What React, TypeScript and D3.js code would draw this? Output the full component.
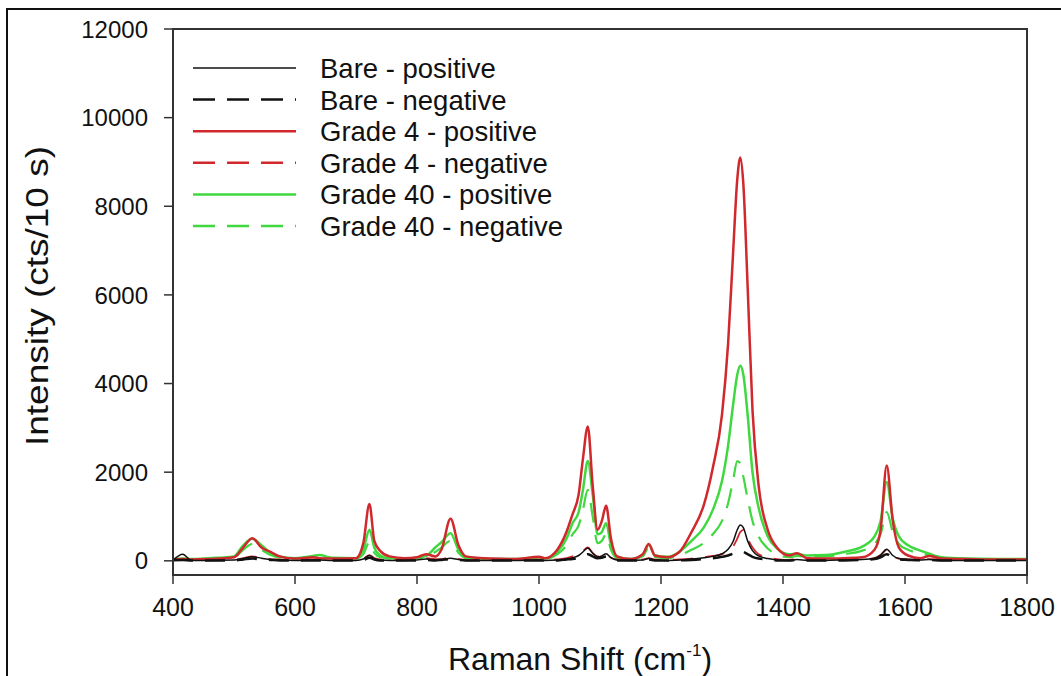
import React from 'react';
import * as d3 from 'd3';

// Raman shift sample points (cm-1)
const shift = [
  400, 416, 430, 460, 500, 515, 530, 545, 560, 575,
  600, 630, 640, 660, 700, 712, 722, 730, 740, 755,
  780, 800, 815, 830, 840, 855, 868, 880, 920, 960,
  1000, 1010, 1030, 1045, 1055, 1065, 1072, 1080, 1088, 1096,
  1103, 1110, 1118, 1128, 1150, 1170, 1180, 1190, 1210, 1230,
  1250, 1270, 1285, 1300, 1310, 1318, 1325, 1330, 1335, 1342,
  1350, 1360, 1375, 1390, 1410, 1423, 1440, 1470, 1500, 1530,
  1550, 1560, 1570, 1580, 1590, 1605, 1625, 1640, 1660, 1700,
  1750, 1800,
];

const barePositive = [
  10, 150, 10, 10, 20, 50, 90, 60, 30, 20,
  10, 20, 20, 10, 10, 40, 120, 50, 20, 10,
  10, 20, 40, 20, 30, 60, 30, 10, 10, 10,
  20, 10, 20, 40, 70, 120, 200, 290, 170, 90,
  110, 160, 70, 20, 10, 20, 50, 20, 10, 20,
  40, 70, 100, 160, 260, 430, 700, 810, 750, 450,
  230, 110, 50, 20, 10, 30, 10, 10, 20, 30,
  60, 130, 260, 120, 50, 30, 20, 30, 10, 10,
  10, 10,
];

const bareNegative = [
  10, 20, 10, 10, 10, 30, 50, 30, 20, 10,
  10, 10, 10, 10, 10, 20, 70, 30, 10, 10,
  10, 10, 20, 10, 20, 40, 20, 10, 10, 10,
  10, 10, 10, 30, 40, 70, 110, 150, 100, 60,
  70, 100, 40, 10, 10, 10, 30, 10, 10, 10,
  20, 40, 60, 90, 120, 160, 190, 210, 200, 150,
  90, 50, 30, 10, 10, 20, 10, 10, 10, 20,
  40, 80, 150, 70, 30, 20, 10, 20, 10, 10,
  10, 10,
];

const grade4Positive = [
  30, 40, 30, 40, 80, 300, 510, 300, 200, 100,
  50, 80, 60, 50, 60, 400, 1280, 450, 220, 100,
  60, 80, 150, 100, 250, 950, 350, 100, 50, 40,
  90, 60, 250, 650, 1050, 1500, 2300, 3030, 1700, 700,
  900, 1240, 500, 100, 40, 150, 380, 120, 80, 200,
  650, 1250, 2100, 3300, 4900, 6900, 8600, 9100, 8500, 6200,
  3400, 1700, 700, 300, 120, 170, 60, 50, 60, 80,
  250, 700, 2150, 900, 300, 120, 60, 110, 50, 40,
  30, 30,
];

const grade4Negative = [
  20, 30, 20, 20, 30, 60, 100, 60, 40, 30,
  20, 30, 30, 20, 20, 50, 130, 60, 30, 20,
  20, 30, 60, 40, 40, 80, 40, 20, 20, 20,
  30, 20, 30, 60, 100, 150, 220, 300, 180, 100,
  110, 150, 70, 30, 20, 30, 60, 30, 20, 30,
  50, 80, 110, 150, 220, 320, 500, 650, 700, 500,
  300, 150, 80, 40, 20, 40, 20, 20, 20, 30,
  60, 130, 250, 110, 50, 30, 20, 40, 20, 20,
  20, 20,
];

const grade40Positive = [
  40, 50, 40, 60, 100, 350, 500, 350, 180, 90,
  60, 110, 130, 70, 60, 250, 700, 300, 120, 60,
  50, 70, 110, 300, 420, 620, 250, 80, 40, 40,
  80, 50, 200, 500, 850, 1100, 1600, 2250, 1500, 600,
  650, 850, 350, 80, 40, 130, 370, 120, 90, 200,
  450, 750, 1150, 1800, 2600, 3500, 4200, 4400, 4200, 3300,
  2000, 1200, 550, 280, 150, 160, 120, 130, 200, 320,
  550, 900, 1780, 950, 550, 350, 230, 160, 80, 50,
  40, 40,
];

const grade40Negative = [
  30, 40, 30, 40, 80, 250, 380, 250, 130, 70,
  50, 90, 100, 60, 50, 150, 420, 180, 80, 50,
  40, 60, 90, 200, 300, 450, 180, 60, 30, 30,
  60, 40, 150, 350, 600, 800, 1150, 1600, 1000, 400,
  450, 600, 250, 60, 30, 100, 300, 90, 60, 120,
  250, 400, 600, 900, 1300, 1800, 2250, 2200, 1900, 1400,
  900, 550, 280, 140, 80, 110, 90, 100, 150, 230,
  380, 600, 1100, 650, 380, 250, 170, 120, 60, 40,
  30, 30,
];

const xTicks = [400, 600, 800, 1000, 1200, 1400, 1600, 1800];
const yTicks = [0, 2000, 4000, 6000, 8000, 10000, 12000];

const RED = '#d0282c';
const GREEN = '#40d840';

const series = [
  { name: 'Bare - positive', values: barePositive, color: '#111', dash: null, width: 1.5 },
  { name: 'Bare - negative', values: bareNegative, color: '#111', dash: '20,12', width: 2.5 },
  { name: 'Grade 4 - positive', values: grade4Positive, color: RED, dash: null, width: 2.5 },
  { name: 'Grade 4 - negative', values: grade4Negative, color: RED, dash: '20,12', width: 1.8 },
  { name: 'Grade 40 - positive', values: grade40Positive, color: GREEN, dash: null, width: 2.5 },
  { name: 'Grade 40 - negative', values: grade40Negative, color: GREEN, dash: '20,12', width: 2.2 },
];

const FONT = 'Arial, "Liberation Sans", Helvetica, sans-serif';

export default function App() {
  const left = 173, right = 1027, top = 29, bottom = 575;
  const x = d3.scaleLinear().domain([400, 1800]).range([left, right]);
  const y = d3.scaleLinear().domain([-320, 12000]).range([bottom, top]);

  const line = d3.line<number>()
    .x((_, i) => x(shift[i]))
    .y(d => y(d))
    .curve(d3.curveMonotoneX);

  // draw order: greens, reds, blacks on top
  const drawOrder = [4, 5, 2, 3, 0, 1];

  return (
    <svg width={1061} height={676} style={{ position: 'absolute', left: 0, top: 0, background: '#fff' }}
      fontFamily={FONT}>
      <rect x={7} y={9} width={1100} height={700} fill="#fff" stroke="#111" strokeWidth={2} />

      <defs>
        <clipPath id="plot">
          <rect x={left} y={top} width={right - left} height={bottom - top} />
        </clipPath>
      </defs>

      <g clipPath="url(#plot)">
        {drawOrder.map(k => {
          const s = series[k];
          return (
            <path key={s.name} d={line(s.values) || ''} fill="none" stroke={s.color}
              strokeWidth={s.width} strokeDasharray={s.dash || undefined} strokeLinejoin="round" />
          );
        })}
      </g>

      {/* frame */}
      <rect x={left} y={top} width={right - left} height={bottom - top} fill="none" stroke="#333" strokeWidth={2} />

      {/* y axis */}
      {yTicks.map(t => (
        <g key={t}>
          <line x1={left - 9} x2={left} y1={y(t)} y2={y(t)} stroke="#333" strokeWidth={1.5} />
          <text x={left - 25} y={y(t)} dy="0.36em" textAnchor="end" fontSize={24} fill="#111">{t}</text>
        </g>
      ))}

      {/* x axis */}
      {xTicks.map(t => (
        <g key={t}>
          <line x1={x(t)} x2={x(t)} y1={bottom} y2={bottom + 9} stroke="#333" strokeWidth={1.5} />
          <text x={x(t)} y={607} dy="0.36em" textAnchor="middle" fontSize={25} fill="#111">{t}</text>
        </g>
      ))}

      <text x={580} y={670} textAnchor="middle" fontSize={32} fill="#111">
        Raman Shift (cm<tspan fontSize={17} dy={-14}>-1</tspan><tspan dy={14}>)</tspan>
      </text>

      <text transform="translate(48,296) rotate(-90)" textAnchor="middle" fontSize={31} fill="#111"
        textLength={300} lengthAdjust="spacingAndGlyphs">
        Intensity (cts/10 s)
      </text>

      {/* legend */}
      {series.map((s, i) => {
        const ly = 68 + i * 31.6;
        return (
          <g key={s.name}>
            <line x1={193} x2={296} y1={ly} y2={ly} stroke={s.color}
              strokeWidth={i === 0 ? 1.5 : 2.5} strokeDasharray={s.dash ? '22,12' : undefined} />
            <text x={320} y={ly} dy="0.36em" fontSize={27.5} fill="#111">{s.name}</text>
          </g>
        );
      })}
    </svg>
  );
}
